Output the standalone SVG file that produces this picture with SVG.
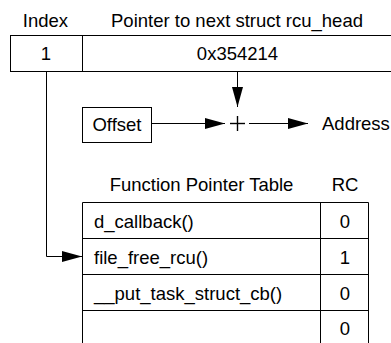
<svg xmlns="http://www.w3.org/2000/svg" width="391" height="343" viewBox="0 0 391 343">
<style>
text{font-family:"Liberation Sans",Arial,sans-serif;font-size:18.5px;fill:#000}
.c{text-anchor:middle}
.box{fill:#fff;stroke:#000;stroke-width:1}
.ln{fill:none;stroke:#000;stroke-width:1}
</style>
<defs>
<marker id="ah" markerWidth="20" markerHeight="12" refX="20" refY="6" orient="auto" markerUnits="userSpaceOnUse">
<path d="M0,0.5 L20,6 L0,11.5 Z" fill="#000"/>
</marker>
</defs>
<g id="headers">
<text class="c" x="45.5" y="27">Index</text>
<text class="c" x="237" y="27">Pointer to next struct rcu_head</text>
</g>
<g id="rcu_head">
<rect class="box" x="10.5" y="35.5" width="400" height="36"/>
<line class="ln" x1="82.5" y1="35.5" x2="82.5" y2="71.5"/>
<text class="c" x="46" y="59.5">1</text>
<text class="c" x="237.5" y="59.5">0x354214</text>
</g>
<g id="offset">
<rect class="box" x="82.5" y="107.5" width="69" height="35"/>
<text class="c" x="117" y="131">Offset</text>
</g>
<g id="plus">
<line x1="230" y1="123.5" x2="245" y2="123.5" stroke="#000" stroke-width="1.4"/>
<line x1="237.5" y1="116" x2="237.5" y2="131" stroke="#000" stroke-width="1.4"/>
</g>
<g id="address">
<text x="322" y="130">Address</text>
</g>
<g id="table">
<text class="c" x="201.5" y="191">Function Pointer Table</text>
<text class="c" x="345" y="191">RC</text>
<path class="ln" d="M82.5,360 V202.5 H368.5 V360 M320.5,202.5 V360 M82.5,238.5 H368.5 M82.5,274.5 H368.5 M82.5,310.5 H368.5"/>
<text x="94" y="228">d_callback()</text>
<text x="94" y="264">file_free_rcu()</text>
<text x="94" y="300">__put_task_struct_cb()</text>
<text class="c" x="345" y="228">0</text>
<text class="c" x="345" y="264">1</text>
<text class="c" x="345" y="300">0</text>
<text class="c" x="345" y="335">0</text>
</g>
<g id="connectors">
<line class="ln" x1="237.5" y1="71.5" x2="237.5" y2="107" marker-end="url(#ah)"/>
<line class="ln" x1="151.5" y1="123.5" x2="225" y2="123.5" marker-end="url(#ah)"/>
<line class="ln" x1="249" y1="123.5" x2="308" y2="123.5" marker-end="url(#ah)"/>
<polyline class="ln" points="46.5,71.5 46.5,256.5 82,256.5" marker-end="url(#ah)"/>
</g>
</svg>
